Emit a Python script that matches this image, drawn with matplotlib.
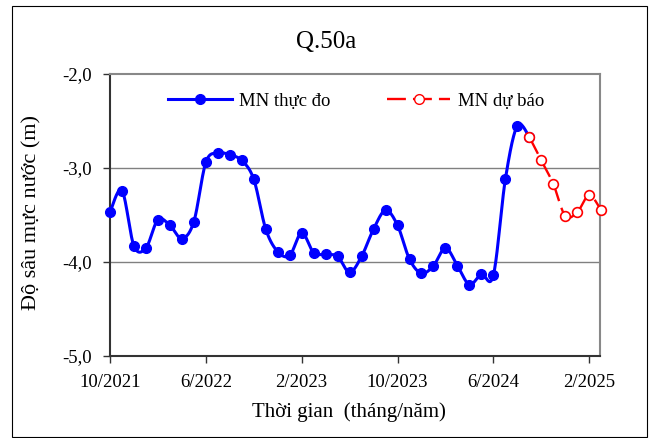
import numpy as np
import matplotlib
matplotlib.use("Agg")
import matplotlib.pyplot as plt
from matplotlib.lines import Line2D
from matplotlib.patches import Rectangle

plt.rcParams['font.family'] = ['Liberation Serif', 'DejaVu Serif']

# month index 0 = 10/2021
obs_months = list(range(0, 36))
obs_values = [-3.47, -3.24, -3.83, -3.85, -3.55, -3.61, -3.75, -3.57, -2.94, -2.84,
              -2.86, -2.92, -3.12, -3.65, -3.89, -3.93, -3.69, -3.90, -3.92, -3.94,
              -4.11, -3.94, -3.65, -3.45, -3.61, -3.97, -4.12, -4.04, -3.85, -4.04,
              -4.24, -4.13, -4.14, -3.12, -2.55, -2.67]
fc_months = list(range(35, 42))
fc_values = [-2.67, -2.92, -3.17, -3.51, -3.47, -3.29, -3.45]

tick_pos = [0, 8, 16, 24, 32, 40]
tick_labels = ["10/2021", "6/2022", "2/2023", "10/2023", "6/2024", "2/2025"]
y_ticks = [-5.0, -4.0, -3.0, -2.0]

title = "Q.50a"
xlabel = "Thời gian  (tháng/năm)"
ylabel = "Độ sâu mực nước (m)"
leg_obs = "MN thực đo"
leg_fc = "MN dự báo"


def smooth(xs, ys, n=30):
    p = np.column_stack([np.asarray(xs, float), np.asarray(ys, float)])
    pts = np.vstack([p[0], p, p[-1]])
    out = []
    t = np.linspace(0, 1, n)[:, None]
    for i in range(1, len(pts) - 2):
        p0, p1, p2, p3 = pts[i - 1], pts[i], pts[i + 1], pts[i + 2]
        c1 = p1 + (p2 - p0) / 6.0
        c2 = p2 - (p3 - p1) / 6.0
        seg = ((1 - t) ** 3) * p1 + 3 * ((1 - t) ** 2) * t * c1 + 3 * (1 - t) * t ** 2 * c2 + t ** 3 * p2
        out.append(seg if i == 1 else seg[1:])
    s = np.vstack(out)
    return s[:, 0], s[:, 1]


W, H = 652, 438
fig = plt.figure(figsize=(W / 100, H / 100), dpi=100)
ax = fig.add_axes([110 / W, (H - 356) / H, 490 / W, 282 / H])

ax.set_xlim(0, 40.9)
ax.set_ylim(-5.0, -2.0)

for yv in [-4.0, -3.0]:
    ax.axhline(yv, color='#808080', lw=1.0, zorder=1)

sx, sy = smooth(obs_months, obs_values)
ax.plot(sx, sy, color='#0000ff', lw=2.2, zorder=3, solid_capstyle='round')
ax.plot(obs_months, obs_values, 'o', color='#0000ff', ms=7, zorder=4, clip_on=False)

fx, fy = smooth(fc_months, fc_values)
ax.plot(fx, fy, color='#ff0000', lw=1.7, ls=(0, (8, 3)), zorder=5, clip_on=False)
ax.plot(fc_months, fc_values, 'o', mfc='white', mec='#ff0000', mew=1.2, ms=7,
        zorder=6, clip_on=False, ls='none')

ax.set_xticks(tick_pos)
ax.set_xticklabels(tick_labels, fontsize=13.5)
ax.set_yticks(y_ticks)
ax.set_yticklabels([f"{v:.1f}".replace('.', ',') for v in y_ticks], fontsize=13.5)
ax.tick_params(axis='both', direction='out', length=5, width=1, color='#333333', pad=8)

for side in ['left', 'bottom']:
    ax.spines[side].set_color('#333333')
    ax.spines[side].set_linewidth(1.5)
for side in ['top', 'right']:
    ax.spines[side].set_color('#888888')
    ax.spines[side].set_linewidth(1.5)

fig.text(326 / W, 1 - 42 / H, title, ha='center', va='center', fontsize=18)
fig.text(349 / W, 1 - 412 / H, xlabel, ha='center', va='center', fontsize=15)
fig.text(32 / W, 1 - 212 / H, ylabel, ha='center', va='center', rotation=90, fontsize=16)

h1 = Line2D([], [], color='#0000ff', lw=2.2, marker='o', ms=7)
h2 = Line2D([], [], color='#ff0000', lw=1.7, ls=(0, (8, 3)), marker='o', mfc='white',
            mec='#ff0000', ms=7)
fig.legend([h1, h2], [leg_obs, leg_fc], loc='center', ncol=2, frameon=False,
           bbox_to_anchor=(356 / W, 1 - 101 / H), fontsize=13.5, handlelength=3.4,
           handletextpad=0.4, columnspacing=3.0)

fig.patches.append(Rectangle((12 / W, 1 / H), (647 - 12) / W, (437 - 6) / H,
                             transform=fig.transFigure, fill=False, ec='black', lw=0.8))

fig.savefig("out.png", dpi=100)
